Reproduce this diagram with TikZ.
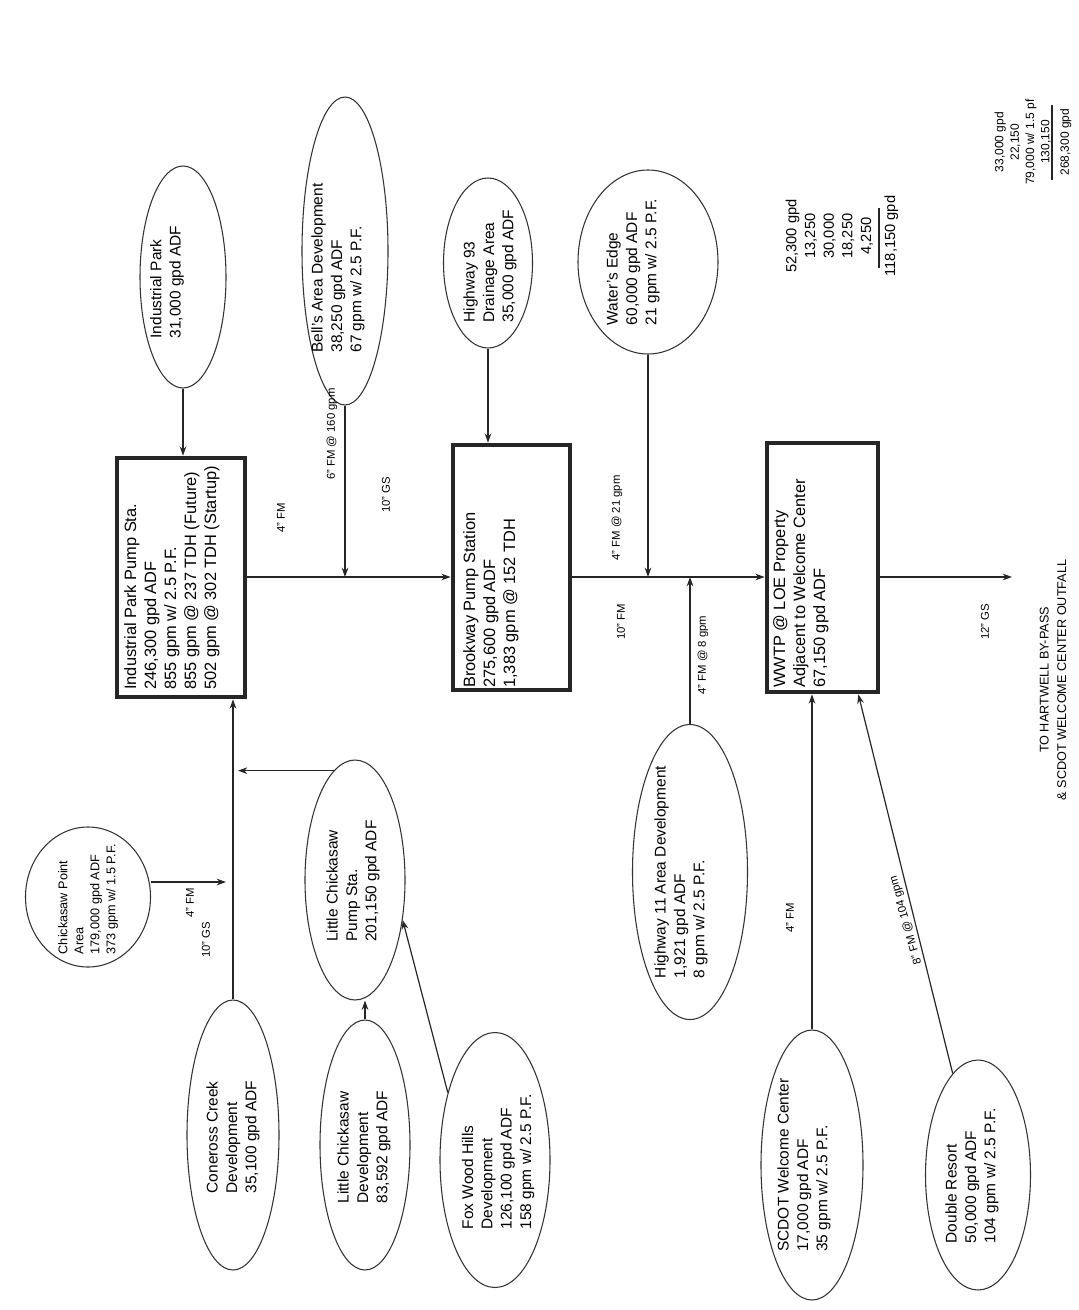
\documentclass[tikz,border=0pt]{standalone}
\usepackage{fontspec}
\setmainfont{Liberation Sans}
\usetikzlibrary{shapes.geometric,arrows.meta,calc}
\begin{document}
\begin{tikzpicture}[x=0.75pt,y=-0.75pt,
  ell/.style={draw=black!80, line width=0.8pt, ellipse, inner sep=0pt},
  pbox/.style={draw=black!85, line width=3.5pt, rectangle, inner sep=0pt},
  txt/.style={rotate=90, align=left, font=\fontsize{12.3}{15}\selectfont, inner sep=0pt},
  etxt/.style={txt, font=\fontsize{11.6}{14.5}\selectfont},
  stk/.style={rotate=90, align=center, font=\fontsize{11}{14}\selectfont, inner sep=0pt},
  lbl/.style={rotate=90, font=\fontsize{8.5}{10}\selectfont, inner sep=1pt},
  flow/.style={draw=black!85, line width=0.9pt, -{Stealth[length=7pt,width=5pt]}},
  plain/.style={draw=black!85, line width=0.9pt},
]
\useasboundingbox (0,0) rectangle (1078,1310);
% boxes
\node[pbox, minimum width=128*0.75pt, minimum height=239*0.75pt] (b1) at (181,577.5) {};
\node[pbox, minimum width=117*0.75pt, minimum height=245*0.75pt] (b2) at (511.5,567.5) {};
\node[pbox, minimum width=111*0.75pt, minimum height=249*0.75pt] (b3) at (822.5,567.5) {};
\node[txt, anchor=north west] (t1) at (124,690) {Industrial Park Pump Sta.\\246,300 gpd ADF\\855 gpm w/ 2.5 P.F.\\855 gpm @ 237 TDH (Future)\\502 gpm @ 302 TDH (Startup)};
\node[txt, anchor=north west] (t2) at (463,688) {Brookway Pump Station\\275,600 gpd ADF\\1,383 gpm @ 152 TDH};
\node[txt, anchor=north west] (t3) at (773,688) {WWTP @ LOE Property\\Adjacent to Welcome Center\\67,150 gpd ADF};
% ellipses
\node[ell, minimum width=86*0.75pt, minimum height=222*0.75pt] (ip) at (183,277) {};
\node[etxt] (ipt) at (167,282) {Industrial Park\\31,000 gpd ADF};
\node[ell, minimum width=86*0.75pt, minimum height=308*0.75pt] (ba) at (345,251) {};
\node[etxt] (bat) at (338,268) {Bell's Area Development\\38,250 gpd ADF\\67 gpm w/ 2.5 P.F.};
\node[ell, minimum width=89*0.75pt, minimum height=170*0.75pt] (hw) at (488,263) {};
\node[etxt] (hwt) at (490,266) {Highway 93\\Drainage Area\\35,000 gpd ADF};
\node[ell, minimum width=140*0.75pt, minimum height=184*0.75pt] (we) at (648,262) {};
\node[etxt] (wet) at (633,262) {Water's Edge\\60,000 gpd ADF\\21 gpm w/ 2.5 P.F.};
\node[ell, minimum width=115*0.75pt, minimum height=295*0.75pt] (h11) at (690,872) {};
\node[etxt] (h11t) at (681,872) {Highway 11 Area Development\\1,921 gpd ADF\\8 gpm w/ 2.5 P.F.};
\node[ell, minimum width=102*0.75pt, minimum height=270*0.75pt] (sc) at (812,1165) {};
\node[etxt] (sct) at (804,1165) {SCDOT Welcome Center\\17,000 gpd ADF\\35 gpm w/ 2.5 P.F.};
\node[ell, minimum width=105*0.75pt, minimum height=230*0.75pt] (dr) at (978,1175) {};
\node[etxt] (drt) at (972,1176) {Double Resort\\50,000 gpd ADF\\104 gpm w/ 2.5 P.F.};
\node[ell, minimum width=125*0.75pt, minimum height=140*0.75pt] (cp) at (88,897) {};
\node[txt, font=\fontsize{9.5}{12}\selectfont] (cpt) at (88,899) {Chickasaw Point\\Area\\179,000 gpd ADF\\373 gpm w/ 1.5 P.F.};
\node[ell, minimum width=92*0.75pt, minimum height=270*0.75pt] (cc) at (233,1135) {};
\node[etxt] (cct) at (233,1137) {Coneross Creek\\Development\\35,100 gpd ADF};
\node[ell, minimum width=100*0.75pt, minimum height=240*0.75pt] (lp) at (355,880) {};
\node[etxt] (lpt) at (353,881) {Little Chickasaw\\Pump Sta.\\201,150 gpd ADF};
\node[ell, minimum width=90*0.75pt, minimum height=250*0.75pt] (ld) at (365,1145) {};
\node[etxt] (ldt) at (364,1147) {Little Chickasaw\\Development\\83,592 gpd ADF};
\node[ell, minimum width=110*0.75pt, minimum height=255*0.75pt] (fw) at (495,1160) {};
\node[etxt] (fwt) at (498,1162) {Fox Wood Hills\\Development\\126,100 gpd ADF\\158 gpm w/ 2.5 P.F.};
% sums
\node[stk] (s1) at (842,236) {52,300 gpd\\13,250\\30,000\\18,250\\4,250\\[4pt]118,150 gpd};
\draw[plain, line width=0.8pt] (879,208) -- (879,268);
\node[stk, font=\fontsize{9}{11.5}\selectfont] (s2) at (1033,142) {33,000 gpd\\22,150\\79,000 w/ 1.5 pf\\130,150\\[3pt]268,300 gpd};
\draw[plain, line width=0.8pt] (1052,105) -- (1052,180);
% main line
\draw[flow] (b1.east |- 0,577) -- (b2.west |- 0,577);
\draw[flow] (b2.east |- 0,577) -- (b3.west |- 0,577);
\coordinate (out) at (1012,577);
\draw[flow] (b3.east |- 0,577) -- (out);
\node[txt, align=center, font=\fontsize{9.5}{13}\selectfont] (outt) at (1053,680) {TO HARTWELL BY-PASS\\\& SCDOT WELCOME CENTER OUTFALL};
% feeders
\draw[flow] (ip.south) -- (ip.south |- b1.north);
\draw[flow] (ba.south) -- (ba.south |- 0,577);
\draw[flow] (hw.south) -- (hw.south |- b2.north);
\draw[flow] (we.south) -- (we.south |- 0,577);
\draw[flow] (h11.north) -- (h11.north |- 0,577);
\draw[flow] (sc.north) -- (sc.north |- b3.south);
\draw[flow] (dr.104) -- ($(b3.south east)+(-22,0)$);
\draw[flow] (cc.north) -- (cc.north |- b1.south);
\draw[flow] (cp.east |- 0,882) -- (226,882);
\draw[flow] (lp.101) -- (lp.101 -| 238,0);
\draw[flow] (ld.north) -- (ld.north |- lp.south);
\draw[flow] (fw.125) -- (lp.-40);
% labels
\node[lbl] (l1) at (281,518) {4" FM};
\node[lbl] (l2) at (332,434) {6" FM @ 160 gpm};
\node[lbl] (l3) at (386,495) {10" GS};
\node[lbl] (l4) at (617,518) {4" FM @ 21 gpm};
\node[lbl] (l5) at (621,622) {10" FM};
\node[lbl] (l6) at (703,655) {4" FM @ 8 gpm};
\node[lbl] (l7) at (985,622) {12" GS};
\node[lbl] (l8) at (790,918) {4" FM};
\node[lbl, rotate=16] (l9) at (906,920) {8" FM @ 104 gpm};
\node[lbl] (l10) at (206,940) {10" GS};
\node[lbl] (l11) at (190,903) {4" FM};
\end{tikzpicture}
\end{document}
